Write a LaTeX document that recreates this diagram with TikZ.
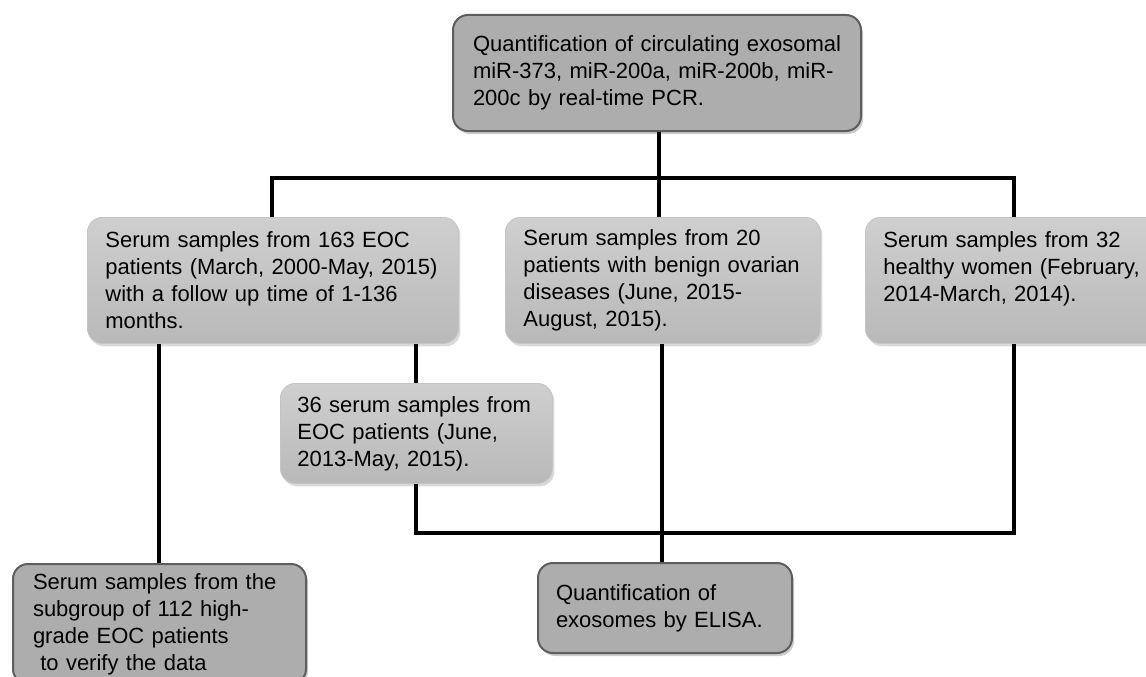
\documentclass[tikz,border=0pt]{standalone}
\usepackage{fontspec}
\setmainfont{Liberation Sans}
\usetikzlibrary{shadows}
\newcommand{\diagboxfont}{\fontsize{22}{27}\selectfont\hyphenpenalty=10000\relax\exhyphenpenalty=10000\relax}
\definecolor{boxfill}{HTML}{ADADAD}
\definecolor{boxdark}{HTML}{5E5E5E}
\definecolor{softtop}{HTML}{CFCFCF}
\definecolor{softbot}{HTML}{B9B9B9}
\definecolor{softedge}{HTML}{C4C4C4}
\tikzset{
  basebox/.style={anchor=north west, align=left, inner xsep=18pt, inner ysep=0pt,
    rounded corners=15pt, font=\diagboxfont, text=black},
  darkbox/.style={basebox, fill=boxfill, draw=boxdark, line width=2pt,
    drop shadow={opacity=0.4, shadow xshift=2pt, shadow yshift=-3pt}},
  softbox/.style={basebox, top color=softtop, bottom color=softbot, draw=softedge, line width=0.8pt,
    drop shadow={opacity=0.3, shadow xshift=2pt, shadow yshift=-3pt}},
  conn/.style={draw=black, line width=3.4pt}
}
\begin{document}
\begin{tikzpicture}[x=1pt,y=-1pt]
\useasboundingbox (0,0) rectangle (1146,677);
\clip (0,0) rectangle (1146,677);
% boxes
\node[darkbox, minimum width=408pt, minimum height=116pt, text width=368pt, inner xsep=20pt] (top) at (452,14)
  {\mbox{Quantification of circulating exosomal}\\miR-373, miR-200a, miR-200b, miR-\\200c by real-time PCR.};
\node[softbox, minimum width=371pt, minimum height=126pt, text width=335pt] (eoc) at (87,217)
  {Serum samples from 163 EOC\\patients (March, 2000-May, 2015)\\with a follow up time of 1-136\\months.};
\node[softbox, minimum width=315pt, minimum height=126pt, text width=279pt] (benign) at (505,217)
  {Serum samples from 20\\patients with benign ovarian\\diseases (June, 2015-\\August, 2015).};
\node[softbox, minimum width=300pt, minimum height=126pt, text width=264pt] (healthy) at (865,217)
  {Serum samples from 32\\healthy women (February,\\2014-March, 2014).\\\mbox{}};
\node[softbox, minimum width=272pt, minimum height=100pt, text width=238pt, inner xsep=17pt] (sub) at (280,383)
  {36 serum samples from\\EOC patients (June,\\2013-May, 2015).};
\node[darkbox, minimum width=293pt, minimum height=120pt, text width=253pt, inner xsep=20pt] (grade) at (12,563)
  {Serum samples from the\\subgroup of 112 high-\\grade EOC patients\\\ to verify the data};
\node[darkbox, minimum width=254pt, minimum height=90pt, text width=218pt] (elisa) at (537,562)
  {Quantification of\\exosomes by ELISA.};
% junctions
\coordinate (j0) at (659,178);
\coordinate (jl) at (272,178);
\coordinate (jr) at (1014,178);
\coordinate (bl) at (416,533);
\coordinate (br) at (1014,533);
\coordinate (xg) at (159,400);
\coordinate (xm) at (662,400);
% connectors
\draw[conn] (top.south -| j0) -- (j0);
\draw[conn] (eoc.north -| jl) -- (jl) -- (jr) -- (healthy.north -| jr);
\draw[conn] (j0) -- (benign.north -| j0);
\draw[conn] (eoc.south -| xg) -- (grade.north -| xg);
\draw[conn] (eoc.south -| bl) -- (sub.north -| bl);
\draw[conn] (sub.south -| bl) -- (bl) -- (br) -- (healthy.south -| br);
\draw[conn] (benign.south -| xm) -- (elisa.north -| xm);
\end{tikzpicture}
\end{document}
